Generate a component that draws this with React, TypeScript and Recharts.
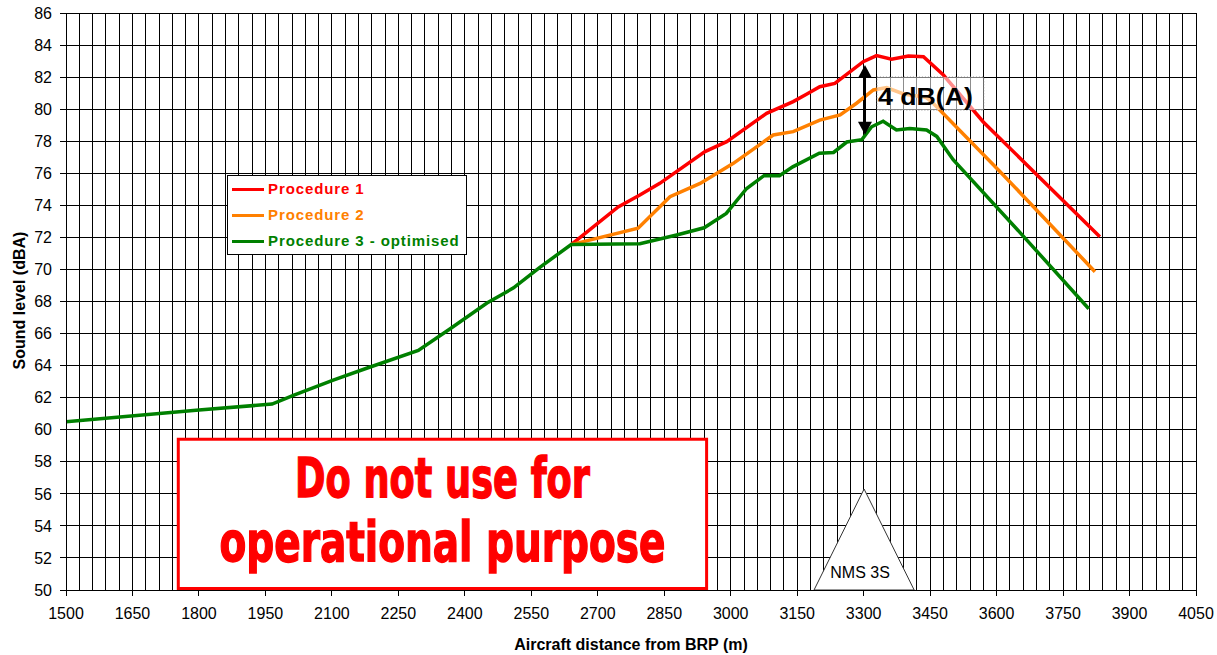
import React from 'react';
import { LineChart, Line, XAxis, YAxis, CartesianGrid, Legend, ReferenceArea, Label } from 'recharts';

// ---------- data ----------
const xTicks = [1500, 1650, 1800, 1950, 2100, 2250, 2400, 2550, 2700, 2850, 3000, 3150, 3300, 3450, 3600, 3750, 3900, 4050];
const yTicks = [50, 52, 54, 56, 58, 60, 62, 64, 66, 68, 70, 72, 74, 76, 78, 80, 82, 84, 86];
const minorGridStep = 30;
const minorXTicks = Array.from({ length: (4050 - 1500) / minorGridStep + 1 }, (_, i) => 1500 + i * minorGridStep);

const procedure1Points: [number, number][] = [
  [2640, 71.55], [2746, 73.9], [2795, 74.64], [2840, 75.37], [2942, 77.35], [2991, 77.97],
  [3081, 79.74], [3141, 80.47], [3172, 80.95], [3201, 81.4], [3235, 81.61], [3299, 82.96],
  [3329, 83.34], [3363, 83.11], [3401, 83.32], [3435, 83.27], [3480, 82.13], [3570, 79.2], [3833, 72.04],
];
const procedure2Points: [number, number][] = [
  [2640, 71.55], [2791, 72.57], [2863, 74.54], [2931, 75.37], [3006, 76.62], [3096, 78.39],
  [3141, 78.6], [3201, 79.32], [3247, 79.64], [3284, 80.37], [3322, 81.2], [3352, 81.35],
  [3390, 80.95], [3440, 80.75], [3457, 80.37], [3608, 76.1], [3822, 69.86],
];
const procedure3Points: [number, number][] = [
  [1500, 60.5], [1800, 61.23], [1965, 61.6], [2013, 62.15], [2103, 63.1], [2180, 63.85],
  [2295, 64.95], [2367, 66.3], [2450, 67.9], [2510, 68.85], [2570, 70.15], [2640, 71.55],
  [2795, 71.6], [2878, 72.15], [2940, 72.6], [2990, 73.5], [3036, 75.05], [3075, 75.85],
  [3110, 75.85], [3140, 76.4], [3200, 77.25], [3232, 77.3], [3262, 77.95], [3296, 78.1],
  [3318, 78.9], [3344, 79.25], [3374, 78.7], [3404, 78.8], [3442, 78.7], [3465, 78.3],
  [3502, 76.85], [3653, 72.3], [3808, 67.55],
];

const seriesNames = ['Procedure 1', 'Procedure 2', 'Procedure 3 - optimised'];
const seriesColors = ['#FF0000', '#FF8000', '#008000'];

// annotation extents (data units)
const warningBox = { x1: 1750, x2: 2949, y1: 50, y2: 59.5 };
const warningLines = ['Do not use for', 'operational purpose'];
const deltaBox = { x1: 3330, x2: 3571, y1: 79.95, y2: 82.0 };
const deltaLabel = '4 dB(A)';
const deltaArrow = { x1: 3290, x2: 3316, y1: 78.4, y2: 82.75 };
const nmsTriangle = { x1: 3188, x2: 3414, y1: 50, y2: 56.3 };
const nmsLabel = 'NMS 3S';

const toRows = (pts: [number, number][]) => pts.map(([distance, level]) => ({ distance, level }));
const series = [procedure1Points, procedure2Points, procedure3Points].map(toRows);

const FONT = "Arial, 'Liberation Sans', sans-serif";
const NARROW = "'Liberation Sans Narrow', 'Arial Narrow', 'DejaVu Sans Condensed', Arial, sans-serif";

// ---------- custom renderers ----------
const YTitle = (props: any) => {
  const vb = props.viewBox || { x: 0, y: 0, width: 0, height: 0 };
  const cx = vb.x + 19.5;
  const cy = vb.y + vb.height / 2 - 1;
  return (
    <text x={cx} y={cy} transform={`rotate(-90 ${cx} ${cy})`} textAnchor="middle" dominantBaseline="central"
      fontSize={16} fontWeight="bold" fill="#000" fontFamily={FONT}>
      Sound level (dBA)
    </text>
  );
};

const XTitle = (props: any) => {
  const vb = props.viewBox || { x: 0, y: 0, width: 0, height: 0 };
  return (
    <text x={vb.x + vb.width / 2} y={vb.y + 60} textAnchor="middle" fontSize={16} fontWeight="bold" fill="#000" fontFamily={FONT}>
      Aircraft distance from BRP (m)
    </text>
  );
};

const LegendBox = (props: any) => {
  const payload = (props.payload || []).slice().sort((a: any, b: any) => seriesNames.indexOf(a.value) - seriesNames.indexOf(b.value));
  return (
    <div style={{ background: '#fff', border: '1px solid #000', width: 240, height: 80, boxSizing: 'border-box', fontFamily: FONT }}>
      {payload.map((entry: any) => (
        <div key={entry.value} style={{ display: 'flex', alignItems: 'center', height: 26 }}>
          <span style={{ display: 'inline-block', width: 32, height: 3, background: entry.color, marginLeft: 4 }} />
          <span style={{ marginLeft: 4, color: entry.color, fontWeight: 'bold', fontSize: 15, letterSpacing: 0.9, whiteSpace: 'nowrap', lineHeight: '26px' }}>
            {entry.value}
          </span>
        </div>
      ))}
    </div>
  );
};

const WarningShape = (props: any) => {
  const { x, y, width, height } = props;
  const cx = x + width / 2;
  return (
    <g>
      <rect x={x + 1.5} y={y + 1.5} width={width - 3} height={height - 3} fill="#fff" stroke="#FF0000" strokeWidth={3} />
      <text x={cx} y={y + 59} textAnchor="middle" fontSize={56} fontWeight="bold" fontFamily={NARROW}
        fill="#FF0000" stroke="#FF0000" strokeWidth={1.4} textLength={295} lengthAdjust="spacingAndGlyphs">
        {warningLines[0]}
      </text>
      <text x={cx} y={y + 123} textAnchor="middle" fontSize={56} fontWeight="bold" fontFamily={NARROW}
        fill="#FF0000" stroke="#FF0000" strokeWidth={1.4} textLength={446} lengthAdjust="spacingAndGlyphs">
        {warningLines[1]}
      </text>
    </g>
  );
};

const DeltaBoxShape = (props: any) => {
  const { x, y, width, height } = props;
  return (
    <g>
      <rect x={x} y={y} width={width} height={height} fill="#fff" fillOpacity={0.55} stroke="#777" strokeWidth={1} strokeDasharray="1 2" />
      <text x={x + 1} y={y + 28} fontSize={24} fontWeight="bold" fill="#000" fontFamily={FONT} textLength={95} lengthAdjust="spacingAndGlyphs">
        {deltaLabel}
      </text>
    </g>
  );
};

const ArrowShape = (props: any) => {
  const { x, y, width, height } = props;
  const cx = x + width / 2;
  const hw = 7;
  const hh = 13;
  return (
    <g>
      <line x1={cx} y1={y + hh - 1} x2={cx} y2={y + height - hh + 1} stroke="#000" strokeWidth={2} />
      <polygon points={`${cx},${y} ${cx - hw},${y + hh} ${cx + hw},${y + hh}`} fill="#000" />
      <polygon points={`${cx},${y + height} ${cx - hw},${y + height - hh} ${cx + hw},${y + height - hh}`} fill="#000" />
    </g>
  );
};

const TriangleShape = (props: any) => {
  const { x, y, width, height } = props;
  const cx = x + width / 2;
  return (
    <g>
      <polygon points={`${x},${y + height} ${cx},${y} ${x + width},${y + height}`} fill="#fff" stroke="#333" strokeWidth={1} />
      <text x={cx - 4} y={y + height - 12} textAnchor="middle" fontSize={16} fill="#000" fontFamily={FONT}>
        {nmsLabel}
      </text>
    </g>
  );
};

export default function App() {
  const tickStyle = { fontSize: 16, fill: '#000', fontFamily: FONT };
  return (
    <div style={{ position: 'absolute', left: 0, top: 0, width: 1217, height: 655, background: '#fff', fontFamily: FONT }}>
      <style>{`
        .recharts-cartesian-grid line,
        .recharts-cartesian-axis-line,
        .recharts-cartesian-axis-tick-line { shape-rendering: crispEdges; }
      `}</style>
      <LineChart width={1217} height={655} margin={{ top: 13, right: 21, left: 0, bottom: 0 }}>
        <XAxis xAxisId="minor" type="number" dataKey="distance" domain={[1500, 4050]} ticks={minorXTicks} interval={0} hide allowDataOverflow />
        <CartesianGrid xAxisId="minor" stroke="#000" strokeWidth={1} />
        <XAxis
          type="number"
          dataKey="distance"
          domain={[1500, 4050]}
          ticks={xTicks}
          interval={0}
          allowDataOverflow
          height={65}
          tickSize={6}
          tickMargin={12}
          tick={tickStyle}
          stroke="#000"
        >
          <Label content={XTitle} />
        </XAxis>
        <YAxis
          type="number"
          domain={[50, 86]}
          ticks={yTicks}
          interval={0}
          allowDataOverflow
          width={66}
          tickSize={6}
          tickMargin={8}
          tick={tickStyle}
          stroke="#000"
        >
          <Label content={YTitle} />
        </YAxis>
        <ReferenceArea {...warningBox} shape={WarningShape} ifOverflow="visible" />
        <ReferenceArea {...nmsTriangle} shape={TriangleShape} ifOverflow="visible" />
        {series.map((rows, i) => (
          <Line
            key={seriesNames[i]}
            data={rows}
            dataKey="level"
            name={seriesNames[i]}
            type="linear"
            stroke={seriesColors[i]}
            strokeWidth={3.5}
            dot={false}
            activeDot={false}
            isAnimationActive={false}
          />
        ))}
        <ReferenceArea {...deltaBox} shape={DeltaBoxShape} ifOverflow="visible" zIndex={1200} />
        <ReferenceArea {...deltaArrow} shape={ArrowShape} ifOverflow="visible" zIndex={1200} />
        <Legend
          layout="vertical"
          align="center"
          verticalAlign="middle"
          content={LegendBox}
          wrapperStyle={{ left: 227, top: 175, right: 'auto', bottom: 'auto', width: 'auto', height: 'auto' }}
        />
      </LineChart>
    </div>
  );
}
